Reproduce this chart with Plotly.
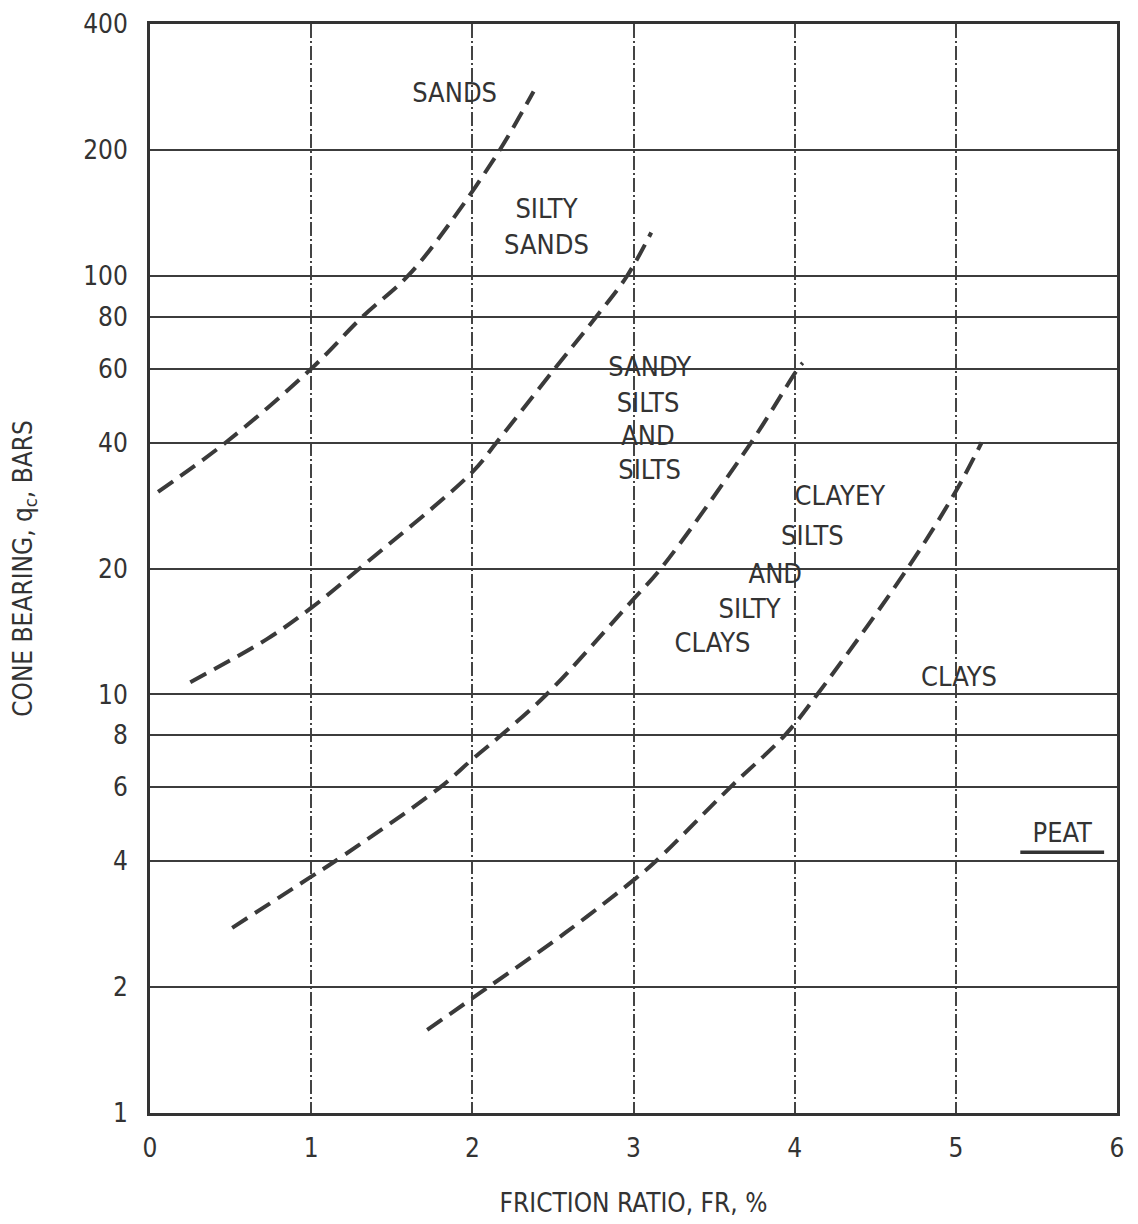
import plotly.graph_objects as go

# Boundary curves (friction ratio %, cone bearing bars)
sands_x = [0.05, 0.47, 1.00, 1.32, 1.60, 1.85, 2.17, 2.38]
sands_y = [30.5, 40, 60, 80, 100, 132, 200, 276]
silty_sands_x = [0.25, 0.73, 1.00, 1.30, 2.00, 2.15, 2.51, 2.77, 2.96, 3.11]
silty_sands_y = [10.7, 13.6, 16.1, 20, 34, 40, 60, 80, 100, 127]
sandy_silts_x = [0.51, 1.00, 1.15, 1.80, 2.00, 2.18, 2.46, 3.00, 3.17, 3.73, 4.02, 4.05]
sandy_silts_y = [2.77, 3.67, 4, 6, 7.0, 8, 10, 16.9, 20, 40, 60, 62]
clayey_silts_x = [1.72, 2.10, 2.58, 3.00, 3.14, 3.60, 3.94, 4.14, 4.70, 5.00, 5.16]
clayey_silts_y = [1.58, 2, 2.7, 3.6, 4, 6, 8, 10, 20, 30.6, 40]

curves = [(sands_x, sands_y), (silty_sands_x, silty_sands_y),
          (sandy_silts_x, sandy_silts_y), (clayey_silts_x, clayey_silts_y)]

# Zone labels
label_text = ["SANDS", "SILTY", "SANDS", "SANDY", "SILTS", "AND", "SILTS",
              "CLAYEY", "SILTS", "AND", "SILTY", "CLAYS", "CLAYS", "PEAT"]
label_x = [1.89, 2.46, 2.46, 3.10, 3.09, 3.09, 3.10,
           4.28, 4.11, 3.88, 3.72, 3.49, 5.02, 5.66]
label_y = [271, 143, 117, 60, 49.2, 41, 33.9,
           29.4, 23.6, 19.2, 15.8, 13.1, 10.9, 4.6]

peat_line_x = [5.40, 5.92]
peat_line_y = [4.2, 4.2]

x_ticks = [0, 1, 2, 3, 4, 5, 6]
y_ticks = [1, 2, 4, 6, 8, 10, 20, 40, 60, 80, 100, 200, 400]

FONT = "DejaVu Sans Condensed, Liberation Sans Narrow, DejaVu Sans, sans-serif"
INK = "#333333"

fig = go.Figure()
for cx, cy in curves:
    fig.add_trace(go.Scatter(x=cx, y=cy, mode="lines",
                             line=dict(color="#3a3a3a", width=4, dash="18px,9px",
                                       shape="spline", smoothing=1.0),
                             showlegend=False, hoverinfo="skip"))

fig.add_trace(go.Scatter(x=peat_line_x, y=peat_line_y, mode="lines",
                         line=dict(color=INK, width=3.5), showlegend=False, hoverinfo="skip"))

fig.add_trace(go.Scatter(x=label_x, y=label_y, mode="text", text=label_text,
                         textfont=dict(family=FONT, size=27, color=INK),
                         textposition="middle center", showlegend=False, hoverinfo="skip"))

# The page body adds an 8px offset; size the figure so the plot area lands where the reference has it.
fig.update_layout(
    width=1130, height=1216,
    margin=dict(l=142, r=21, t=16, b=111),
    paper_bgcolor="white", plot_bgcolor="white",
    font=dict(family=FONT, color=INK, size=26),
)
fig.update_xaxes(range=[0, 6], tickvals=x_ticks, ticktext=[str(v) for v in x_ticks],
                 showgrid=True, gridcolor="#444444", gridwidth=1.5, griddash="14px,3px,2px,3px",
                 showline=True, linecolor=INK, linewidth=3, mirror=True,
                 ticks="", zeroline=False, ticklabelstandoff=10, automargin=False,
                 ticklabeloverflow="allow",
                 tickfont=dict(size=26, family=FONT),
                 title=dict(text="FRICTION RATIO, FR, %", font=dict(size=26, family=FONT), standoff=32))
fig.update_yaxes(type="log", range=[0, 2.60206], tickvals=y_ticks, ticktext=[str(v) for v in y_ticks],
                 showgrid=True, gridcolor="#3c3c3c", gridwidth=2,
                 showline=True, linecolor=INK, linewidth=3, mirror=True,
                 ticks="", zeroline=False, ticklabelstandoff=14, automargin=False,
                 ticklabeloverflow="allow",
                 tickfont=dict(size=26, family=FONT),
                 title=dict(text="CONE BEARING, q<sub>c</sub>, BARS", font=dict(size=26, family=FONT), standoff=47))

fig.write_html("out.html")
